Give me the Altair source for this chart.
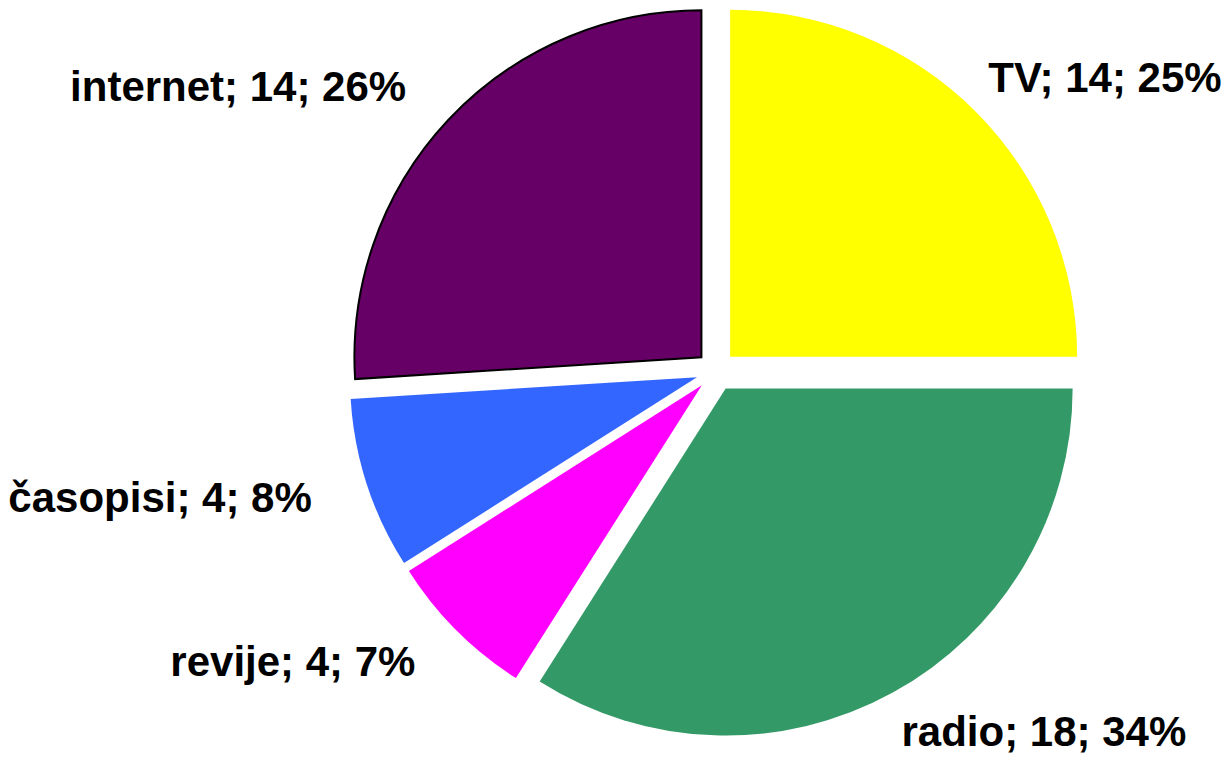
import altair as alt
import pandas as pd

# data
categories = ["TV", "radio", "revije", "časopisi", "internet"]
counts = [14, 18, 4, 4, 14]
percents = [25, 34, 7, 8, 26]

# styles
colors = ["#FFFF00", "#339966", "#FF00FF", "#3366FF", "#660066"]
W, H = 1214, 747
CX, CY = 708, 363
R = 347
EXPLODE = 20
LABEL_RX_RIGHT = 385
LABEL_RX_LEFT = 425
LABEL_RY = 413
FONT = "Liberation Sans"

df = pd.DataFrame({
    "cat": categories,
    "n": counts,
    "pct": percents,
    "order": list(range(len(categories))),
})

base = (
    alt.Chart(df)
    .transform_window(cum="sum(pct)", sort=[alt.SortField("order")])
    .transform_calculate(
        a0="datum.cum - datum.pct",
        mid="(datum.cum - datum.pct / 2) / 100 * 2 * PI",
    )
    .transform_calculate(
        px=f"{CX} + {EXPLODE} * sin(datum.mid)",
        py=f"{CY} - {EXPLODE} * cos(datum.mid)",
        lx=f"{CX} + (datum.mid < PI ? {LABEL_RX_RIGHT} : {LABEL_RX_LEFT}) * sin(datum.mid)",
        ly=f"{CY} - {LABEL_RY} * cos(datum.mid)",
        label="datum.cat + '; ' + datum.n + '; ' + datum.pct + '%'",
    )
)

theta_scale = alt.Scale(domain=[0, 100], range=[0, 6.283185307179586])

arcs = base.mark_arc(radius=R, stroke="black").encode(
    x=alt.X("px:Q", scale=None, axis=None),
    y=alt.Y("py:Q", scale=None, axis=None),
    theta=alt.Theta("a0:Q", scale=theta_scale),
    theta2="cum:Q",
    color=alt.Color("cat:N", scale=alt.Scale(domain=categories, range=colors), legend=None),
    strokeWidth=alt.condition(alt.datum.cat == "internet", alt.value(2), alt.value(0)),
)

text_style = dict(font=FONT, fontSize=42, fontWeight="bold", color="black", baseline="middle")

labels_right = base.transform_filter("datum.mid < PI").mark_text(align="left", **text_style).encode(
    x=alt.X("lx:Q", scale=None, axis=None),
    y=alt.Y("ly:Q", scale=None, axis=None),
    text="label:N",
)
labels_left = base.transform_filter("datum.mid >= PI").mark_text(align="right", **text_style).encode(
    x=alt.X("lx:Q", scale=None, axis=None),
    y=alt.Y("ly:Q", scale=None, axis=None),
    text="label:N",
)

chart = (
    alt.layer(arcs, labels_right, labels_left)
    .properties(width=W, height=H, padding=0, autosize=alt.AutoSizeParams(type="none"))
    .configure_view(stroke=None)
)

chart.save("out.html", embed_options={"renderer": "svg", "actions": False})
